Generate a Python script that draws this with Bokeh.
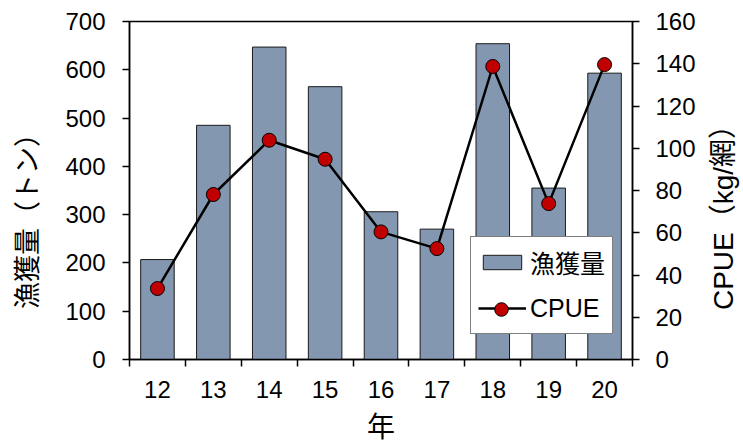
import math
from bokeh.plotting import figure
from bokeh.layouts import row
from bokeh.models import (Range1d, LinearAxis, FixedTicker, Legend, LegendItem, Label)
from bokeh.core.properties import value
from bokeh.embed import file_html
from bokeh.resources import INLINE

# ---- data ----
years = [12, 13, 14, 15, 16, 17, 18, 19, 20]
year_labels = ["12", "13", "14", "15", "16", "17", "18", "19", "20"]
catch_t = [207, 485, 647, 565, 306, 270, 654, 355, 593]
cpue = [33.6, 78.1, 103.8, 94.8, 60.4, 52.5, 138.7, 73.8, 139.6]
left_ticks = [0, 100, 200, 300, 400, 500, 600, 700]
right_ticks = [0, 20, 40, 60, 80, 100, 120, 140, 160]
catch_name = "漁獲量"
cpue_name = "CPUE"
left_title = "漁獲量（トン）"
right_title = "CPUE（kg/網）"
x_title = "年"

LAT = "Liberation Sans, Noto Sans CJK JP"
CJK = "Noto Sans CJK JP"

H = 447
TOP = 21
FRAME_BOTTOM = 359
SIDE_L = 48
SIDE_R = 44
MAIN_W = 743 - SIDE_L - SIDE_R

p = figure(width=MAIN_W, height=H, output_backend="svg", toolbar_location=None,
           x_range=Range1d(years[0] - 0.5, years[-1] + 0.5),
           y_range=Range1d(left_ticks[0], left_ticks[-1]),
           min_border_left=129 - SIDE_L, min_border_right=MAIN_W - (129 - SIDE_L) - 503,
           min_border_top=TOP, min_border_bottom=H - FRAME_BOTTOM,
           x_axis_type=None, y_axis_type=None)
p.extra_y_ranges = {"cpue": Range1d(right_ticks[0], right_ticks[-1])}
p.grid.visible = False
p.outline_line_color = "black"
p.outline_line_width = 1.5
p.background_fill_color = "white"
p.border_fill_color = "white"

def style_axis(ax):
    ax.axis_line_color = "black"
    ax.axis_line_width = 1.5
    ax.major_label_text_font = LAT
    ax.major_label_text_font_size = "24px"
    ax.major_label_text_color = "black"
    ax.minor_tick_line_color = None

bounds = [y - 0.5 for y in years] + [years[-1] + 0.5]
xax = LinearAxis(ticker=FixedTicker(ticks=years, minor_ticks=bounds))
style_axis(xax)
xax.major_tick_line_color = None
xax.major_tick_out = 7
xax.major_tick_in = 0
xax.minor_tick_line_color = "black"
xax.minor_tick_line_width = 1.5
xax.minor_tick_out = 7
xax.minor_tick_in = 0
xax.major_label_standoff = 14
xax.major_label_overrides = {y: s for y, s in zip(years, year_labels)}
xax.axis_label = x_title
xax.axis_label_text_font = CJK
xax.axis_label_text_font_size = "28px"
xax.axis_label_text_font_style = "normal"
xax.axis_label_text_color = "black"
xax.axis_label_standoff = 4
p.add_layout(xax, "below")

yax = LinearAxis(ticker=FixedTicker(ticks=left_ticks))
style_axis(yax)
yax.major_tick_line_color = "black"
yax.major_tick_line_width = 1.5
yax.major_tick_out = 7
yax.major_tick_in = 0
yax.major_label_standoff = 17
p.add_layout(yax, "left")

rax = LinearAxis(y_range_name="cpue", ticker=FixedTicker(ticks=right_ticks))
style_axis(rax)
rax.major_tick_line_color = "black"
rax.major_tick_line_width = 1.5
rax.major_tick_out = 7
rax.major_tick_in = 0
rax.major_label_standoff = 16
p.add_layout(rax, "right")

bars = p.vbar(x=years, top=catch_t, width=0.6, fill_color="#8497B0",
              line_color="#1a1a1a", line_width=1)
ln = p.line(x=years, y=cpue, y_range_name="cpue", line_color="black", line_width=2.5)
pts = p.scatter(x=years, y=cpue, y_range_name="cpue", size=14, marker="circle",
                fill_color="#C00000", line_color="black", line_width=1)

legend = Legend(items=[LegendItem(label=value(catch_name), renderers=[bars]),
                       LegendItem(label=value(cpue_name), renderers=[ln])],
                location=(341, 25), orientation="vertical",
                label_text_font=LAT, label_text_font_size="25px",
                label_text_color="black", label_height=36,
                glyph_width=48, glyph_height=18, label_standoff=4,
                padding=7, spacing=10, margin=0,
                border_line_color="black", border_line_width=1.5,
                background_fill_color="white", background_fill_alpha=1.0)
p.add_layout(legend, "center")

legend2 = Legend(items=[LegendItem(label=value(""), renderers=[pts])],
                 location=(355, 33), orientation="vertical",
                 label_text_font_size="8px", label_height=0,
                 glyph_width=34, glyph_height=34, label_standoff=0,
                 padding=0, spacing=0, margin=0,
                 border_line_color=None, background_fill_alpha=0.0)
p.add_layout(legend2, "center")

def side_fig(w):
    f = figure(width=w, height=H, output_backend="svg", toolbar_location=None,
               x_range=Range1d(0, 1), y_range=Range1d(0, 1),
               x_axis_type=None, y_axis_type=None, min_border=0)
    f.grid.visible = False
    f.outline_line_color = None
    f.border_fill_color = "white"
    f.background_fill_color = "white"
    return f

# side figures share the main frame's vertical extent (row aligns frames)
lf = side_fig(SIDE_L)
lf.add_layout(Label(x=25, y=FRAME_BOTTOM - 214, x_units="screen", y_units="screen",
                    text=left_title, angle=math.pi / 2, text_align="center",
                    text_baseline="middle", text_font=CJK,
                    text_font_size="27px", text_color="black"))
rf = side_fig(SIDE_R)
rf.add_layout(Label(x=24, y=FRAME_BOTTOM - 210, x_units="screen", y_units="screen",
                    text=right_title, angle=math.pi / 2, text_align="center",
                    text_baseline="middle", text_font=LAT,
                    text_font_size="28px", text_color="black"))

layout = row(lf, p, rf, spacing=0)
open("out.html", "w").write(file_html(layout, INLINE))
